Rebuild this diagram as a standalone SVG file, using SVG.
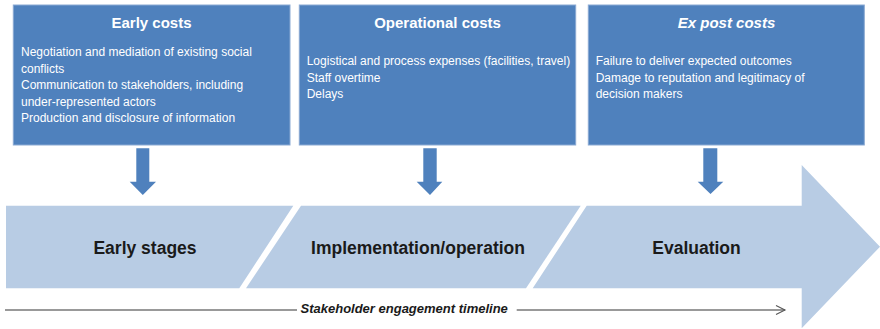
<svg xmlns="http://www.w3.org/2000/svg" width="880" height="329" viewBox="0 0 880 329">
<defs>
<style>
.box{fill:#4f81bd;stroke:#8aa9d3;stroke-width:1}
.title{font-family:"Liberation Sans",Arial,sans-serif;font-size:15px;font-weight:bold;fill:#fff;text-anchor:middle}
.body{font-family:"Liberation Sans",Arial,sans-serif;font-size:12px;fill:#fff}
.down{fill:#4f81bd}
.band{fill:#b8cce4}
.stage{font-family:"Liberation Sans",Arial,sans-serif;font-size:17.5px;font-weight:bold;fill:#1a1a1a;text-anchor:middle}
.tl{stroke:#777;stroke-width:1.3;fill:none}
.tltext{font-family:"Liberation Sans",Arial,sans-serif;font-size:13px;font-weight:bold;font-style:italic;fill:#1a1a1a}
</style>
<marker id="open" markerWidth="12" markerHeight="12" refX="10" refY="6" orient="auto" markerUnits="userSpaceOnUse">
<path d="M1,1.5 L10,6 L1,10.5" fill="none" stroke="#555" stroke-width="1.1"/>
</marker>
</defs>
<rect width="880" height="329" fill="#fff"/>

<g id="band">
<polygon class="band" points="6,205.7 293.3,205.7 239.3,288.3 6,288.3"/>
<polygon class="band" points="301,205.7 580.7,205.7 526,288.3 246,288.3"/>
<polygon class="band" points="586.7,205.7 801.7,205.7 801.7,165 880,246.7 801.7,328.3 801.7,288.3 532.7,288.3"/>
</g>

<g id="early-stages"><text class="stage" x="145" y="254.3">Early stages</text></g>
<g id="implementation"><text class="stage" x="418" y="254.3">Implementation/operation</text></g>
<g id="evaluation"><text class="stage" x="696.5" y="254.3">Evaluation</text></g>

<g id="early-costs">
<rect class="box" x="13.3" y="5" width="276.7" height="140"/>
<text class="title" x="151.5" y="28.3">Early costs</text>
<text class="body" x="21" y="56">Negotiation and mediation of existing social</text>
<text class="body" x="21" y="72.5">conflicts</text>
<text class="body" x="21" y="89">Communication to stakeholders, including</text>
<text class="body" x="21" y="105.5">under-represented actors</text>
<text class="body" x="21" y="122">Production and disclosure of information</text>
</g>

<g id="operational-costs">
<rect class="box" x="299.3" y="5" width="276.4" height="140"/>
<text class="title" x="437.5" y="28.3">Operational costs</text>
<text class="body" x="306.7" y="65">Logistical and process expenses (facilities, travel)</text>
<text class="body" x="306.7" y="81.5">Staff overtime</text>
<text class="body" x="306.7" y="98">Delays</text>
</g>

<g id="ex-post-costs">
<rect class="box" x="588.3" y="5" width="276" height="140"/>
<text class="title" x="726.5" y="28.3" font-style="italic">Ex post costs</text>
<text class="body" x="595.7" y="65">Failure to deliver expected outcomes</text>
<text class="body" x="595.7" y="81.5">Damage to reputation and legitimacy of</text>
<text class="body" x="595.7" y="98">decision makers</text>
</g>

<g id="connectors">
<polygon class="down" points="136.3,148.3 149.3,148.3 149.3,181.7 156,181.7 142.8,195 129.7,181.7 136.3,181.7"/>
<polygon class="down" points="423.3,148.3 436.7,148.3 436.7,181.7 442.3,181.7 430,195 416.7,181.7 423.3,181.7"/>
<polygon class="down" points="703.3,148.3 717.3,148.3 717.3,181.7 723.3,181.7 710.5,194 697.7,181.7 703.3,181.7"/>
</g>

<g id="timeline">
<line class="tl" x1="5" y1="310" x2="297" y2="310"/>
<text class="tltext" x="300.5" y="313.3">Stakeholder engagement timeline</text>
<line class="tl" x1="516.7" y1="310" x2="785" y2="310" marker-end="url(#open)"/>
</g>
</svg>
